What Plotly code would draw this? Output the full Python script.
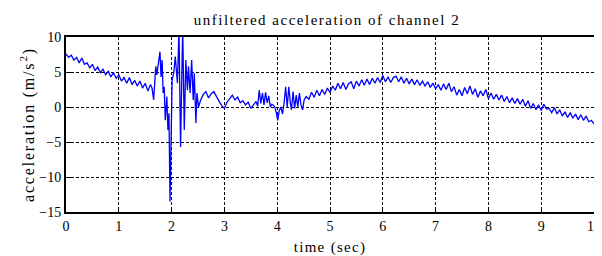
import plotly.graph_objects as go

# time (s) and acceleration (m/s^2)
time_seg_a = [0.00, 0.05, 0.10, 0.15, 0.20, 0.25, 0.30, 0.35, 0.40, 0.45, 0.50, 0.55, 0.60, 0.65,
              0.70, 0.75, 0.80, 0.85, 0.90, 0.95, 1.00, 1.05, 1.10, 1.15, 1.20, 1.25, 1.30, 1.35,
              1.40, 1.45, 1.50, 1.55, 1.60]
acc_seg_a = [7.6, 7.1, 7.4, 6.7, 7.1, 6.3, 7.0, 6.1, 6.3, 5.6, 6.1, 5.2, 5.7, 4.9,
             5.4, 4.6, 5.1, 4.3, 4.9, 4.1, 4.6, 3.7, 4.2, 3.4, 4.2, 3.2, 3.8, 3.0,
             3.7, 2.7, 3.4, 2.3, 3.2]

time_seg_b = [1.63, 1.66, 1.68, 1.70, 1.72, 1.75, 1.78, 1.80, 1.82, 1.84, 1.86, 1.88, 1.91,
              1.93, 1.95, 1.97, 1.99, 2.01, 2.04, 2.07, 2.11, 2.14, 2.17, 2.21, 2.24, 2.27,
              2.30, 2.32, 2.35, 2.38, 2.41, 2.43, 2.46, 2.48, 2.51, 2.55]
acc_seg_b = [2.7, 1.0, 3.5, 5.8, 4.6, 6.5, 7.9, 4.3, 6.7, 2.0, 2.9, -1.9, 1.5,
             -3.3, -0.9, -13.5, -5.7, 3.9, 4.8, 7.2, 3.4, 11.0, -5.7, 11.5, -3.3, 6.7,
             2.4, 5.8, 2.0, 6.7, 1.0, 4.8, -2.3, 2.0, 0.0, 1.0]

time_seg_c = [2.60, 2.65, 2.70, 2.75, 2.80, 2.85, 2.90, 2.95, 3.00, 3.05, 3.10, 3.15, 3.20,
              3.25, 3.30, 3.35, 3.40, 3.45, 3.50, 3.55, 3.60, 3.63, 3.66, 3.69, 3.72, 3.75,
              3.78, 3.81, 3.84, 3.87, 3.90, 3.95, 3.98, 4.01, 4.04, 4.07, 4.10, 4.13, 4.16,
              4.19, 4.22, 4.25, 4.27, 4.30, 4.33, 4.36, 4.39, 4.42, 4.45, 4.48, 4.51, 4.55,
              4.60, 4.65, 4.70, 4.75, 4.80, 4.85, 4.90, 4.95, 5.00, 5.05, 5.10, 5.15, 5.20,
              5.25, 5.30, 5.35, 5.40, 5.45, 5.50, 5.55, 5.60, 5.65, 5.70, 5.75, 5.80, 5.85,
              5.90, 5.95, 6.00, 6.05, 6.10, 6.15, 6.20, 6.25, 6.30, 6.35, 6.40, 6.45, 6.50,
              6.55, 6.60, 6.65, 6.70, 6.75, 6.80, 6.85, 6.90, 6.95, 7.00, 7.05, 7.10, 7.15,
              7.20, 7.25, 7.30, 7.35, 7.40, 7.45, 7.50, 7.55, 7.60, 7.65, 7.70, 7.75, 7.80,
              7.85, 7.90, 7.95, 8.00, 8.05, 8.10, 8.15, 8.20, 8.25, 8.30, 8.35, 8.40, 8.45,
              8.50, 8.55, 8.60, 8.65, 8.70, 8.75, 8.80, 8.85, 8.90, 8.95, 9.00, 9.05, 9.10,
              9.15, 9.20, 9.25, 9.30, 9.35, 9.40, 9.45, 9.50, 9.55, 9.60, 9.65, 9.70, 9.75,
              9.80, 9.85, 9.90, 9.95, 10.00]
acc_seg_c = [1.8, 2.2, 1.3, 1.9, 2.2, 1.4, 0.8, 0.2, -0.2, 0.7, 1.2, 1.7, 1.0,
             1.4, 0.6, 0.9, 0.3, 0.7, -0.2, 0.4, 0.8, 0.1, 2.4, 0.5, 2.0, 0.3,
             2.1, 0.6, 1.6, 0.0, 0.4, 0.1, -0.7, -1.9, -0.5, 0.0, -1.0, 0.5, 2.9,
             0.0, 2.9, 0.5, -0.4, 2.2, -0.2, 1.7, 0.0, 2.0, 0.3, -0.4, 1.0, 1.5,
             1.1, 2.1, 1.4, 2.4, 1.6, 2.5, 1.8, 2.7, 2.1, 3.0, 2.4, 3.4, 2.6,
             3.5, 2.5, 3.3, 3.6, 2.6, 3.7, 3.0, 3.9, 3.1, 4.0, 3.2, 4.1, 3.4,
             4.2, 3.5, 4.5, 3.6, 4.3, 3.5, 4.2, 4.4, 3.6, 4.3, 3.4, 4.1, 3.3,
             4.0, 3.2, 3.9, 3.1, 3.7, 3.0, 3.6, 2.8, 3.4, 2.6, 3.2, 2.4, 3.3,
             2.5, 3.4, 2.2, 2.9, 1.7, 2.5, 1.6, 2.8, 1.9, 3.0, 1.8, 2.6, 1.4,
             2.3, 1.6, 2.5, 1.2, 2.0, 1.1, 1.8, 1.0, 1.7, 0.8, 1.5, 0.6, 1.3,
             0.5, 1.2, 0.4, 1.1, 0.1, 0.9, -0.2, 0.5, -0.4, 0.3, -0.5, 0.4, -0.3,
             -0.2, -0.8, -0.1, -1.0, -0.4, -1.3, -0.7, -1.5, -0.8, -1.6, -1.0, -1.8, -1.1,
             -1.9, -1.3, -2.1, -1.9, -2.4]

time_s = time_seg_a + time_seg_b + time_seg_c
accel = acc_seg_a + acc_seg_b + acc_seg_c

x_ticks = [0, 1, 2, 3, 4, 5, 6, 7, 8, 9, 10]
y_ticks = [-15, -10, -5, 0, 5, 10]

FONT = "Liberation Serif, Times New Roman, serif"


def spaced(text, px):
    return '<span style="letter-spacing:%.1fpx">%s</span>' % (px, text)


fig = go.Figure()
fig.add_trace(go.Scatter(x=time_s, y=accel, mode="lines",
                         line=dict(color="#0000ff", width=1.3), showlegend=False))

axis_common = dict(
    showline=True, linecolor="black", linewidth=2, mirror=True,
    showgrid=True, gridcolor="black", griddash="3px,2px", gridwidth=1,
    ticks="inside", ticklen=5, tickcolor="black", tickwidth=1,
    zeroline=False, automargin=False, ticklabeloverflow="allow",
    tickfont=dict(family=FONT, size=14, color="black"),
)

fig.update_xaxes(range=[0, 10], tickvals=x_ticks,
                 title=dict(text=spaced("time (sec)", 1.3), font=dict(family=FONT, size=15, color="black"), standoff=10),
                 **axis_common)
fig.update_yaxes(range=[-15, 10], tickvals=y_ticks,
                 title=dict(text=spaced("acceleration (m/s<sup>2</sup>)", 1.8), font=dict(family=FONT, size=16, color="black"), standoff=1),
                 **axis_common)

# page body adds an 8px offset; figure is sized to fit the 602x256 window
fig.update_layout(
    width=594, height=248,
    margin=dict(l=58, r=8, t=29, b=44),
    paper_bgcolor="white", plot_bgcolor="white",
    title=dict(text=spaced("unfiltered acceleration of channel 2", 1.5), x=0.537, xanchor="center",
               y=0.952, yref="container", yanchor="middle", automargin=False,
               font=dict(family=FONT, size=15, color="black")),
)

fig.add_annotation(text=spaced("filtered acceleration of channel 2", 1.5), xref="paper", yref="paper",
                   x=0.5, y=0, xanchor="center", yanchor="top", yshift=-42, showarrow=False,
                   font=dict(family=FONT, size=15, color="black"))

fig.write_html("out.html")
